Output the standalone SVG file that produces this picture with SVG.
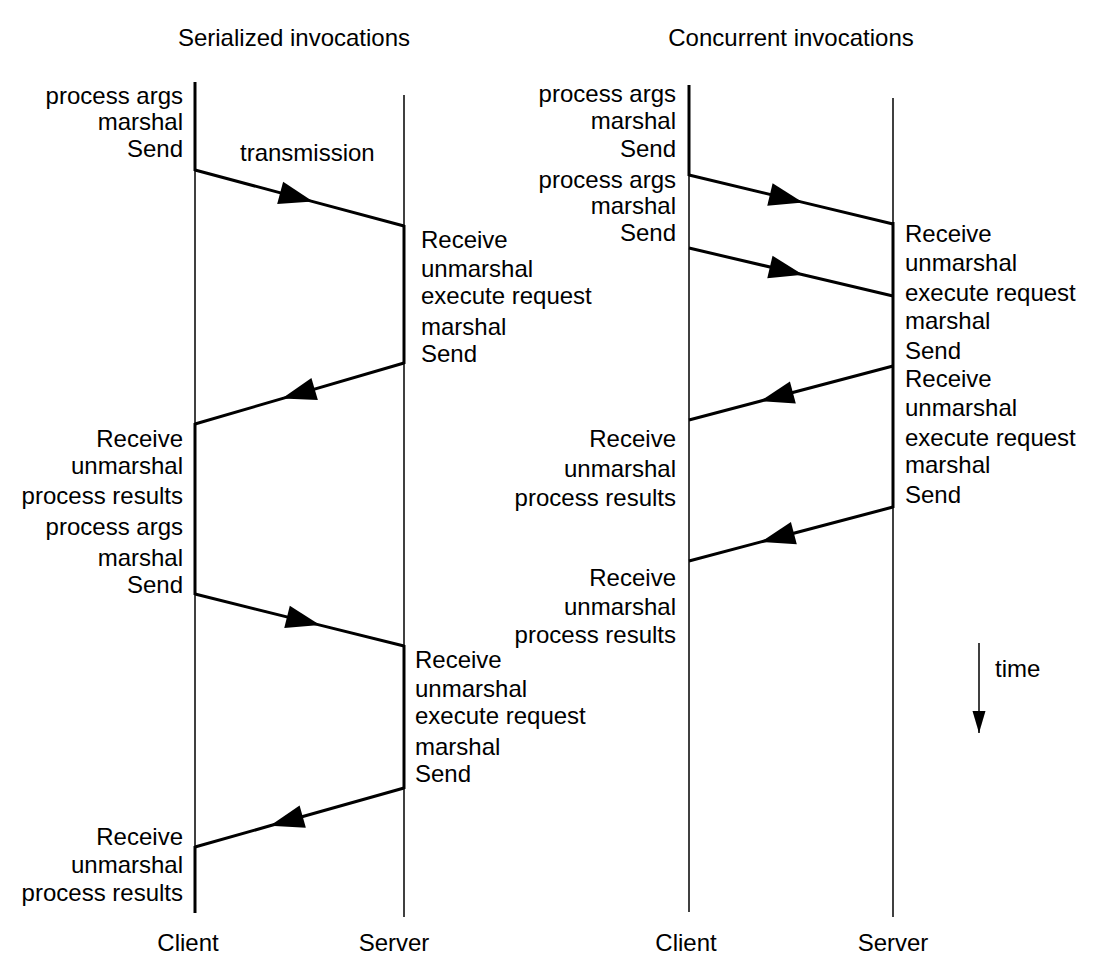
<svg xmlns="http://www.w3.org/2000/svg" width="1108" height="957" viewBox="0 0 1108 957">
<style>
text{font-family:"Liberation Sans",Arial,sans-serif;font-size:24px;fill:#000}
.e{text-anchor:end}
.m{text-anchor:middle}
.thin{stroke:#000;stroke-width:1.5;fill:none}
.thick{stroke:#000;stroke-width:3;fill:none}
.msg{stroke:#000;stroke-width:3;fill:none;marker-mid:url(#ah)}
</style>
<defs>
<marker id="ah" markerUnits="userSpaceOnUse" orient="auto" refX="0" refY="0" markerWidth="40" markerHeight="30" overflow="visible">
<path d="M0,0 L-34,-11.5 L-34,11.5 Z" fill="#000"/>
</marker>
<marker id="ta" markerUnits="userSpaceOnUse" orient="auto" refX="0" refY="0" markerWidth="30" markerHeight="20" overflow="visible">
<path d="M0,0 L-22,-6.5 L-22,6.5 Z" fill="#000"/>
</marker>
</defs>
<rect width="1108" height="957" fill="#fff"/>

<text class="m" x="294" y="46">Serialized invocations</text>
<text class="m" x="791" y="46">Concurrent invocations</text>

<g id="left-client">
<line class="thin" x1="195" y1="170" x2="195" y2="912"/>
<line class="thick" x1="195" y1="82" x2="195" y2="171"/>
<line class="thick" x1="195" y1="423" x2="195" y2="595"/>
<line class="thick" x1="195" y1="846" x2="195" y2="913"/>
<text class="m" x="188" y="951">Client</text>
</g>
<g id="left-server">
<line class="thin" x1="404" y1="95" x2="404" y2="917"/>
<line class="thick" x1="404" y1="225" x2="404" y2="364"/>
<line class="thick" x1="404" y1="645" x2="404" y2="789"/>
<text class="m" x="394" y="951">Server</text>
</g>
<g id="right-client">
<line class="thin" x1="689" y1="175" x2="689" y2="912"/>
<line class="thick" x1="689" y1="85" x2="689" y2="176"/>
<text class="m" x="686" y="951">Client</text>
</g>
<g id="right-server">
<line class="thin" x1="893" y1="98" x2="893" y2="917"/>
<line class="thick" x1="893" y1="222" x2="893" y2="508"/>
<text class="m" x="893" y="951">Server</text>
</g>

<g id="connectors">
<path class="msg" d="M195,170 L313,201.6 L404,226"/>
<path class="msg" d="M404,363 L282,398.6 L195,424"/>
<path class="msg" d="M195,594 L320,625.1 L404,646"/>
<path class="msg" d="M404,788 L270,825.8 L195,847"/>
<path class="msg" d="M689,175 L803,202.4 L893,224"/>
<path class="msg" d="M689,248 L803,274.8 L893,296"/>
<path class="msg" d="M893,366 L760,401.2 L689,420"/>
<path class="msg" d="M893,507 L761,541.9 L689,561"/>
<line x1="979" y1="643" x2="979" y2="733" stroke="#000" stroke-width="1.5" marker-end="url(#ta)"/>
</g>

<g id="left-labels">
<text x="240" y="161">transmission</text>
<text class="e" x="183" y="104">process args</text>
<text class="e" x="183" y="130">marshal</text>
<text class="e" x="183" y="157">Send</text>
<text x="421" y="248">Receive</text>
<text x="421" y="277">unmarshal</text>
<text x="421" y="304">execute request</text>
<text x="421" y="335">marshal</text>
<text x="421" y="362">Send</text>
<text class="e" x="183" y="447">Receive</text>
<text class="e" x="183" y="474">unmarshal</text>
<text class="e" x="183" y="504">process results</text>
<text class="e" x="183" y="535">process args</text>
<text class="e" x="183" y="566">marshal</text>
<text class="e" x="183" y="593">Send</text>
<text x="415" y="668">Receive</text>
<text x="415" y="697">unmarshal</text>
<text x="415" y="724">execute request</text>
<text x="415" y="755">marshal</text>
<text x="415" y="782">Send</text>
<text class="e" x="183" y="845">Receive</text>
<text class="e" x="183" y="873">unmarshal</text>
<text class="e" x="183" y="901">process results</text>
</g>

<g id="right-labels">
<text class="e" x="676" y="102">process args</text>
<text class="e" x="676" y="129">marshal</text>
<text class="e" x="676" y="157">Send</text>
<text class="e" x="676" y="188">process args</text>
<text class="e" x="676" y="214">marshal</text>
<text class="e" x="676" y="241">Send</text>
<text x="905" y="242">Receive</text>
<text x="905" y="271">unmarshal</text>
<text x="905" y="301">execute request</text>
<text x="905" y="329">marshal</text>
<text x="905" y="359">Send</text>
<text x="905" y="387">Receive</text>
<text x="905" y="416">unmarshal</text>
<text x="905" y="446">execute request</text>
<text x="905" y="473">marshal</text>
<text x="905" y="503">Send</text>
<text class="e" x="676" y="447">Receive</text>
<text class="e" x="676" y="477">unmarshal</text>
<text class="e" x="676" y="506">process results</text>
<text class="e" x="676" y="586">Receive</text>
<text class="e" x="676" y="615">unmarshal</text>
<text class="e" x="676" y="643">process results</text>
<text x="995" y="677">time</text>
</g>
</svg>
